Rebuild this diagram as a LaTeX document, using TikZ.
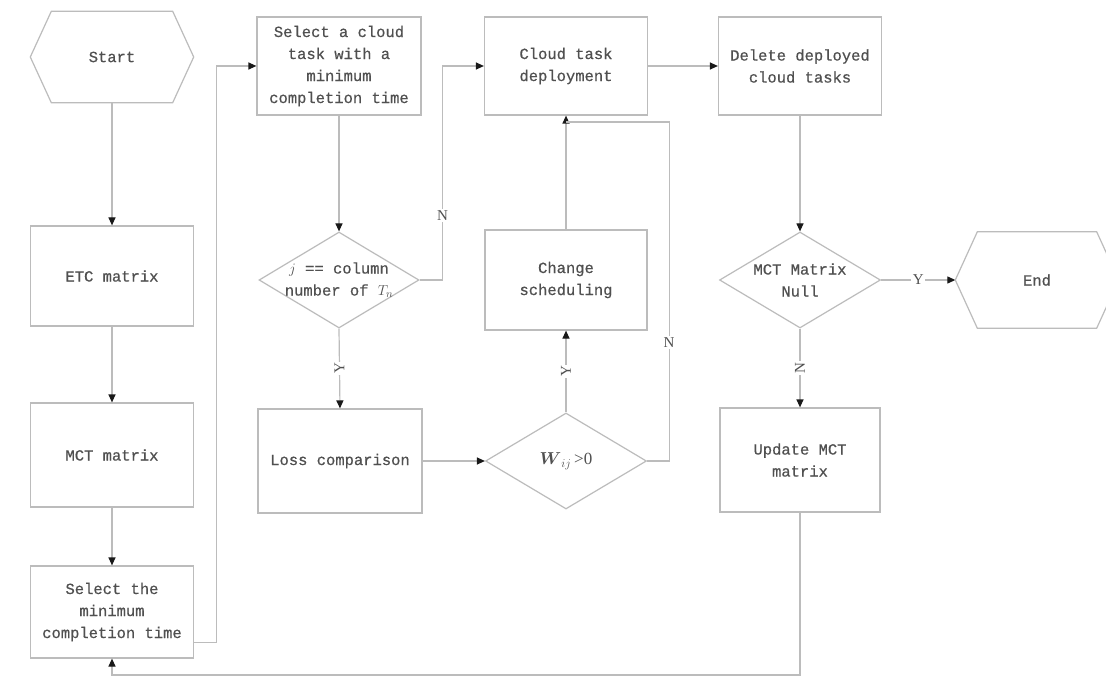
\documentclass[tikz,border=0pt]{standalone}
\usepackage{amsmath}
\usepackage{fontspec}
\setmainfont{Liberation Serif}
\newfontfamily\boxfamily{Liberation Mono}[BoldFont=Liberation Mono, BoldFeatures={FakeBold=0.6}]
\usetikzlibrary{shapes.geometric,arrows.meta}
\definecolor{linegray}{RGB}{188,188,188}
\definecolor{txtgray}{RGB}{80,80,80}
\definecolor{tipcol}{RGB}{25,25,25}
\tikzset{
  flowline/.style={draw=linegray, line width=1.2pt},
  arr/.style={flowline, -{Triangle[length=8pt,width=7pt,color=tipcol]}},
  boxfont/.style={font=\boxfamily\bfseries\fontsize{15.5}{22}\selectfont},
  box/.style={boxfont, draw=linegray, line width=1.2pt, fill=white, text=txtgray,
    align=center, inner sep=0pt},
  hexbox/.style={boxfont, text=txtgray, align=center, inner sep=0pt},
  decision/.style={diamond, draw=linegray, line width=1.2pt, fill=white, inner sep=0pt},
  inlbl/.style={boxfont, text=txtgray, align=center, inner sep=0pt},
  lbl/.style={fill=white, text=txtgray, font=\rmfamily\fontsize{15}{15}\selectfont, inner sep=1.5pt},
}
\begin{document}
\begin{tikzpicture}[x=1pt,y=-1pt]
\clip (0,0) rectangle (1106,679);
\fill[white] (0,0) rectangle (1106,679);

% terminals (hexagons drawn around plain nodes)
\node[hexbox, minimum width=163pt, minimum height=91pt] (start) at (112,57) {Start};
\draw[flowline] (start.west) -- ([xshift=21pt]start.north west) -- ([xshift=-21pt]start.north east)
  -- (start.east) -- ([xshift=-21pt]start.south east) -- ([xshift=21pt]start.south west) -- cycle;
\node[hexbox, minimum width=163pt, minimum height=96pt] (end) at (1037,280) {End};
\draw[flowline] (end.west) -- ([xshift=22pt]end.north west) -- ([xshift=-22pt]end.north east)
  -- (end.east) -- ([xshift=-22pt]end.south east) -- ([xshift=22pt]end.south west) -- cycle;

% left column
\node[box, minimum width=163pt, minimum height=100pt] (etc) at (112,276) {ETC matrix};
\node[box, minimum width=163pt, minimum height=104pt] (mct) at (112,455) {MCT matrix};
\node[box, minimum width=163pt, minimum height=92pt] (selmin) at (112,612) {Select the\\minimum\\completion time};

% second column
\node[box, minimum width=164pt, minimum height=98pt] (selcloud) at (339,66) {Select a cloud\\task with a\\minimum\\completion time};
\node[decision, minimum width=160pt, minimum height=96pt,
  label={[inlbl]center:{$j$ == column\\number of\hspace{0.6em}$T_n$}}] (jdia) at (339,280) {};
\node[box, minimum width=164pt, minimum height=104pt] (loss) at (340,461) {Loss comparison};

% third column
\node[box, minimum width=163pt, minimum height=98pt] (deploy) at (566,66) {Cloud task\\deployment};
\node[box, minimum width=162pt, minimum height=100pt] (change) at (566,280) {Change\\scheduling};
\node[decision, minimum width=161pt, minimum height=96pt,
  label={[text=txtgray, font=\rmfamily\fontsize{17}{17}\selectfont]center:{$\boldsymbol{W}_{ij}$\,>0}}] (wdia) at (566,461) {};
\coordinate (join) at (566,122);

% fourth column
\node[box, minimum width=163pt, minimum height=98pt] (delete) at (800,66) {Delete deployed\\cloud tasks};
\node[decision, minimum width=161pt, minimum height=96pt,
  label={[inlbl]center:{MCT Matrix\\Null}}] (mctnull) at (800,280) {};
\node[box, minimum width=160pt, minimum height=104pt] (update) at (800,460) {Update MCT\\matrix};
\coordinate (loopc) at (112,675);

% connectors
\draw[arr] (start) -- (etc);
\draw[arr] (etc) -- (mct);
\draw[arr] (mct) -- (selmin);
\draw[arr] ([yshift=16pt]selmin.south east) -- ++(22,0) |- (selcloud.west);
\draw[arr] (selcloud) -- (jdia);
\draw[arr] (jdia.east) -- ++(23,0) |- node[lbl, pos=0.15] {N} (deploy.west);
\draw[arr] (jdia.south) -- node[lbl, rotate=90] {Y} (loss.north);
\draw[arr] (loss.east) -- (wdia.west);
\draw[arr] (wdia.north) -- node[lbl, rotate=90] {Y} (change.south);
\draw[arr] (change.north) -- (deploy.south);
\draw[flowline] (wdia.east) -- ++(22,0) |- node[lbl, pos=0.175] {N} (join);
\draw[arr] (deploy.east) -- (delete.west);
\draw[arr] (delete.south) -- (mctnull.north);
\draw[arr] (mctnull.east) -- node[lbl] {Y} (end.west);
\draw[arr] (mctnull.south) -- node[lbl, rotate=90] {N} (update.north);
\draw[arr] (update.south) |- (loopc) -- (selmin.south);
\end{tikzpicture}
\end{document}
